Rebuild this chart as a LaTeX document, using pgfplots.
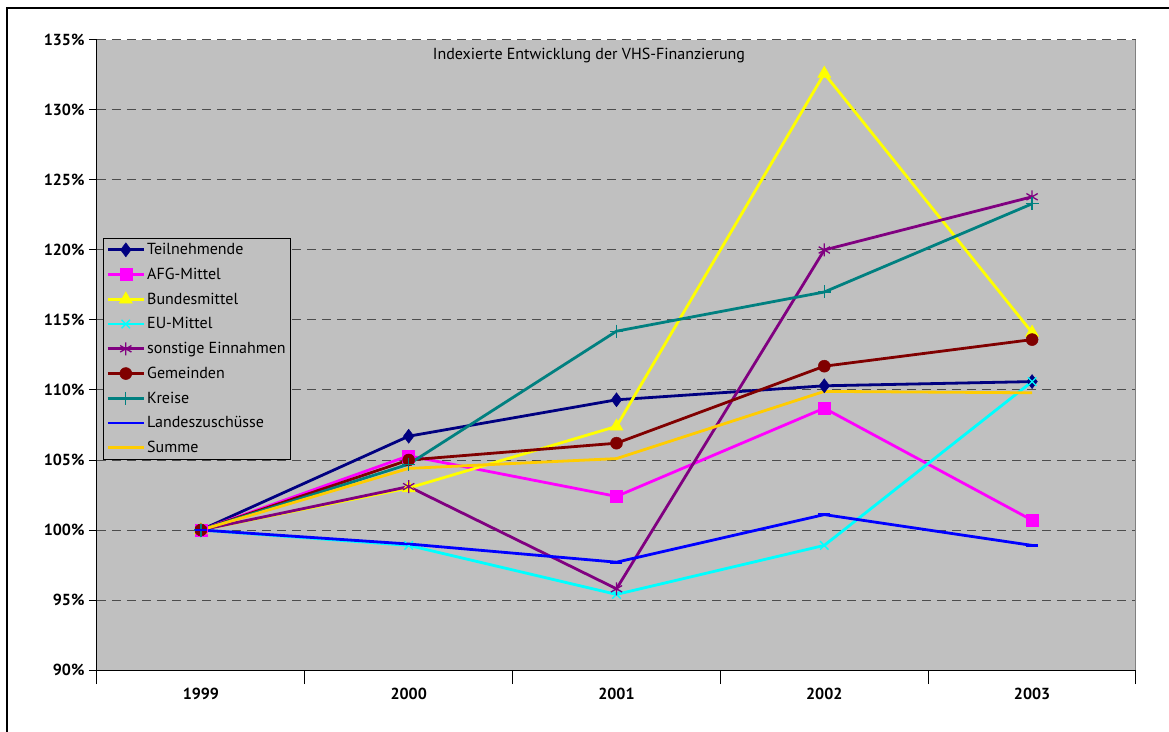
\documentclass[border=0pt]{standalone}
\usepackage{fontspec}
\setmainfont{PT Sans}
\usepackage{pgfplots}
\pgfplotsset{compat=1.18}
\definecolor{xlgray}{RGB}{192,192,192}
\definecolor{xlnavy}{RGB}{0,0,128}
\definecolor{xlmagenta}{RGB}{255,0,255}
\definecolor{xlyellow}{RGB}{255,255,0}
\definecolor{xlcyan}{RGB}{0,255,255}
\definecolor{xlpurple}{RGB}{128,0,128}
\definecolor{xlmaroon}{RGB}{128,0,0}
\definecolor{xlteal}{RGB}{0,128,128}
\definecolor{xlblue}{RGB}{0,0,255}
\definecolor{xlgold}{RGB}{255,204,0}
\begin{document}
\begin{tikzpicture}[x=1pt,y=1pt]
\useasboundingbox (-97,-61) rectangle (1072,670);
\draw[line width=2pt] (-90,-80) -- (-90,662) -- (1090,662);
\begin{axis}[
    at={(0,0)}, anchor=south west,
    width=1039pt, height=630pt, scale only axis,
    xmin=-0.5, xmax=4.5, ymin=90, ymax=135,
    axis background/.style={fill=xlgray},
    axis x line*=bottom, axis y line*=left,
    axis line style={black, line width=1pt},
    xtick={0,...,4},
    xticklabels={1999,2000,2001,2002,2003},
    major x tick style={draw=none},
    minor xtick={-0.5,0.5,...,4.5},
    minor tick length=14pt,
    ytick={90,95,...,135},
    yticklabel={\pgfmathprintnumber{\tick}\%},
    /pgf/number format/assume math mode=true,
    major tick length=8pt,
    tick align=outside,
    tick style={black, line width=1pt},
    ymajorgrids=true,
    grid style={dash pattern=on 9pt off 6pt, color=black!70, line width=1pt},
    ticklabel style={font=\bfseries\fontsize{16}{18}\selectfont},
    xticklabel style={yshift=-7pt},
    yticklabel style={xshift=-1pt},
    legend cell align=left,
    legend style={at={(axis description cs:0.0058,0.6857)}, anchor=north west,
        fill=xlgray, draw=black, line width=0.8pt,
        font=\fontsize{16}{19}\selectfont, row sep=7.9pt, inner sep=3pt},
    legend image code/.code={\draw[mark repeat=2,mark phase=2] plot coordinates {(0pt,0pt) (18pt,0pt) (36pt,0pt)};},
    every axis plot/.append style={line width=2.8pt},
    mark options={solid},
]
\addplot[color=xlnavy, mark=diamond*, mark size=7pt, mark options={line width=0.5pt}]
    coordinates {(0,100) (1,106.7) (2,109.3) (3,110.3) (4,110.6)};
\addplot[color=xlmagenta, mark=square*, mark size=6pt, mark options={line width=0.5pt}]
    coordinates {(0,100) (1,105.3) (2,102.4) (3,108.7) (4,100.7)};
\addplot[color=xlyellow, mark=triangle*, mark size=7.5pt, mark options={line width=0.5pt}]
    coordinates {(0,100) (1,103.0) (2,107.4) (3,132.6) (4,114.1)};
\addplot[color=xlcyan, mark=x, mark size=6pt, mark options={line width=1.3pt}]
    coordinates {(0,100) (1,98.9) (2,95.4) (3,98.9) (4,110.6)};
\addplot[color=xlpurple, mark=asterisk, mark size=6.5pt, mark options={line width=1.3pt}]
    coordinates {(0,100) (1,103.1) (2,95.8) (3,120.0) (4,123.8)};
\addplot[color=xlmaroon, mark=*, mark size=6pt, mark options={line width=0.5pt}]
    coordinates {(0,100) (1,105.0) (2,106.2) (3,111.7) (4,113.6)};
\addplot[color=xlteal, mark=+, mark size=6.5pt, mark options={line width=1.3pt}]
    coordinates {(0,100) (1,104.7) (2,114.2) (3,117.0) (4,123.3)};
\addplot[color=xlblue, mark=-, mark size=6pt, mark options={line width=2.8pt}]
    coordinates {(0,100) (1,99.0) (2,97.7) (3,101.1) (4,98.9)};
\addplot[color=xlgold, no marks]
    coordinates {(0,100) (1,104.4) (2,105.1) (3,109.9) (4,109.8)};
\legend{Teilnehmende, AFG-Mittel, Bundesmittel, EU-Mittel, sonstige Einnahmen, Gemeinden, Kreise, Landeszuschüsse, Summe}
\draw[color=black!50, line width=2pt] (rel axis cs:1,0) -- (rel axis cs:1,1);
\node[font=\fontsize{16}{18}\selectfont] at (rel axis cs:0.4735,0.976) {Indexierte Entwicklung der VHS-Finanzierung};
\end{axis}
\end{tikzpicture}
\end{document}
